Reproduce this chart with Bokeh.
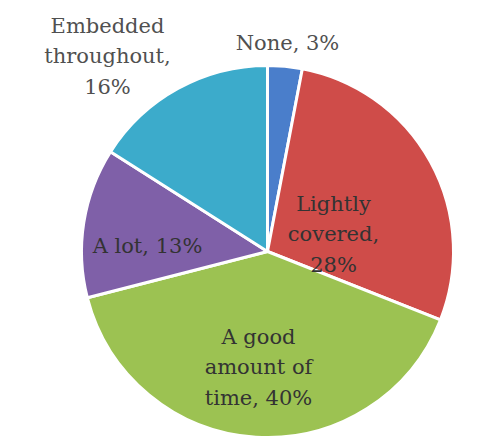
import math

from bokeh.core.properties import value
from bokeh.embed import file_html
from bokeh.models import ColumnDataSource, Range1d
from bokeh.plotting import figure
from bokeh.resources import INLINE

# Survey answers, clockwise from 12 o'clock
categories = ["None", "Lightly covered", "A good amount of time", "A lot", "Embedded throughout"]
shares = [3, 28, 40, 13, 16]
label_texts = [
    "None, 3%",
    "Lightly\ncovered,\n28%",
    "A good\namount of\ntime, 40%",
    "A lot, 13%",
    "Embedded\nthroughout,\n16%",
]
colors = ["#4a7ecb", "#cf4c49", "#9cc252", "#7f60a8", "#3cabcb"]

W, H = 478, 440
CX, CY, R = 267, H - 251, 186

total = float(sum(shares))
starts, ends = [], []
cum = 0.0
for s in shares:
    a0 = math.pi / 2 - 2 * math.pi * cum / total
    cum += s
    a1 = math.pi / 2 - 2 * math.pi * cum / total
    # anticlockwise wedge from a1 to a0 covers this clockwise slice
    starts.append(a1)
    ends.append(a0)

src = ColumnDataSource(dict(cat=categories, share=shares, start=starts, end=ends, color=colors))

p = figure(width=W, height=H, output_backend="svg", toolbar_location=None,
           x_range=Range1d(0, W), y_range=Range1d(0, H), min_border=0)
p.axis.visible = False
p.grid.visible = False
p.outline_line_color = None
p.background_fill_color = "white"
p.border_fill_color = "white"

p.wedge(x=CX, y=CY, radius=R, radius_units="screen", start_angle="start", end_angle="end",
        fill_color="color", line_color="white", line_width=3, source=src)

# label anchors (y measured from top)
label_pos = [(287, 42), (333, 234), (258, 367), (147, 245), (107, 56)]
inside = [False, True, True, True, False]
for txt, (lx, ly), ins in zip(label_texts, label_pos, inside):
    p.text(x=[lx], y=[H - ly], text=[txt], text_align="center", text_baseline="middle",
           text_font=value("DejaVu Serif"), text_font_size="21px",
           text_line_height=1.28,
           text_color="#333333" if ins else "#505050")

open("out.html", "w").write(file_html(p, INLINE))
